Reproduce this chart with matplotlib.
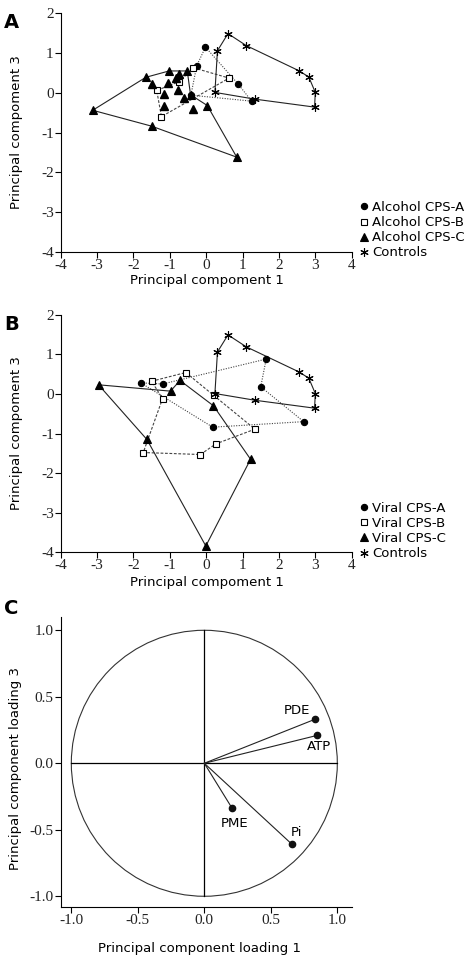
import numpy as np
import matplotlib
matplotlib.use('Agg')
import matplotlib.pyplot as plt
from matplotlib.lines import Line2D
from matplotlib.patches import Circle

plt.rcParams['axes.unicode_minus'] = False

# --- Panel A: alcoholic cirrhosis scores (outline points first, in drawing order) ---
alc_a_x = [-0.02, 0.87, 1.25, -0.42, -0.26]
alc_a_y = [1.15, 0.23, -0.21, -0.06, 0.68]
alc_b_x = [-0.35, 0.63, -1.23, -1.36, -0.74]
alc_b_y = [0.63, 0.37, -0.60, 0.06, 0.28]
alc_c_x = [-3.12, -1.66, -1.02, -0.52, -0.43, 0.03, 0.84, -1.50]
alc_c_y = [-0.44, 0.39, 0.55, 0.55, -0.05, -0.32, -1.62, -0.84]
alc_c_inner_x = [-1.48, -0.75, -0.83, -1.06, -0.78, -1.17, -1.15, -0.60, -0.37]
alc_c_inner_y = [0.22, 0.47, 0.36, 0.25, 0.07, -0.02, -0.32, -0.13, -0.40]

# controls (same in A and B)
ctrl_x = [0.31, 0.60, 1.10, 2.54, 2.82, 3.00, 2.98, 1.34, 0.24]
ctrl_y = [1.06, 1.49, 1.19, 0.56, 0.40, 0.01, -0.36, -0.16, 0.01]

# --- Panel B: viral cirrhosis scores ---
vir_a_x = [-1.80, -1.20, 1.65, 1.50, 2.68, 0.18]
vir_a_y = [0.28, 0.25, 0.88, 0.18, -0.70, -0.84]
vir_b_x = [-1.50, -0.56, 0.21, 1.34, 0.27, -0.16, -1.73, -1.20]
vir_b_y = [0.32, 0.54, -0.04, -0.89, -1.26, -1.53, -1.48, -0.12]
vir_c_x = [-2.96, -0.98, -0.72, 0.20, 1.22, -0.01, -1.63]
vir_c_y = [0.23, 0.07, 0.34, -0.30, -1.65, -3.84, -1.15]

# --- Panel C: loadings ---
load_names = ['PDE', 'ATP', 'PME', 'Pi']
load_x = [0.83, 0.85, 0.21, 0.66]
load_y = [0.33, 0.21, -0.34, -0.61]

score_ticks = [-4, -3, -2, -1, 0, 1, 2, 3, 4]
load_ticks = [-1.0, -0.5, 0.0, 0.5, 1.0]

SANS = 'DejaVu Sans'
SERIF = 'Liberation Serif'
FS = 9.5

styles = {
    'A': dict(marker='o', ms=4.5, mfc='black', mec='black', ls=(0, (1, 1.3)), color='#444444'),
    'B': dict(marker='s', ms=4, mfc='white', mec='black', ls=(0, (2.5, 1.5)), color='#444444'),
    'C': dict(marker='^', ms=5.5, mfc='black', mec='black', ls='-', color='#222222'),
    'K': dict(marker=(6, 2, 0), ms=6, mfc='black', mec='black', ls='-', color='#222222'),
}


def closed(v):
    return list(v) + [v[0]]


def draw_group(ax, xs, ys, st):
    ax.plot(closed(xs), closed(ys), ls=st['ls'], color=st['color'], lw=0.8, zorder=2)
    ax.plot(xs, ys, ls='none', marker=st['marker'], ms=st['ms'], mfc=st['mfc'],
            mec=st['mec'], mew=0.8, zorder=3)


def style_axes(ax):
    ax.spines['top'].set_visible(False)
    ax.spines['right'].set_visible(False)
    ax.spines['left'].set_linewidth(0.8)
    ax.spines['bottom'].set_linewidth(0.8)
    ax.tick_params(direction='out', length=4, width=0.8, pad=1)
    for lab in ax.get_xticklabels() + ax.get_yticklabels():
        lab.set_fontfamily(SERIF)
        lab.set_fontsize(11)
        lab.set_color('#222222')


def score_panel(ax, groups, names, letter, xlab_y):
    for xs, ys, key in groups:
        draw_group(ax, xs, ys, styles[key])
    ax.set_xlim(-4, 4)
    ax.set_ylim(-4, 2)
    ax.set_xticks(score_ticks)
    ax.set_yticks(range(-4, 3))
    style_axes(ax)
    ax.set_xlabel('Principal compoment 1', fontsize=FS, family=SANS)
    ax.set_ylabel('Principal compoment 3', fontsize=FS, family=SANS)
    ax.xaxis.set_label_coords(0.503, xlab_y)
    ax.yaxis.set_label_coords(-0.128, 0.5)
    handles = []
    for key, name in zip(['A', 'B', 'C', 'K'], names):
        st = styles[key]
        handles.append(Line2D([], [], ls='none', marker=st['marker'], ms=st['ms'],
                              mfc=st['mfc'], mec=st['mec'], mew=0.8, label=name))
    ax.legend(handles=handles, loc='center left', bbox_to_anchor=(1.03, 0.09),
              frameon=False, borderpad=0, borderaxespad=0, handlelength=0.6,
              handletextpad=0.3, labelspacing=0.16, prop={'family': SANS, 'size': FS})
    ax.text(-0.195, 1.0, letter, transform=ax.transAxes, fontsize=14,
            fontweight='bold', family=SANS, va='top', ha='left')


fig = plt.figure(figsize=(4.73, 9.68), dpi=100)
axA = fig.add_axes([0.1283, 0.740, 0.6152, 0.2462])
axB = fig.add_axes([0.1283, 0.4294, 0.6152, 0.2455])
axC = fig.add_axes([0.1283, 0.0627, 0.6152, 0.3002])

score_panel(axA, [(alc_a_x, alc_a_y, 'A'), (alc_b_x, alc_b_y, 'B'),
                  (alc_c_x, alc_c_y, 'C'), (ctrl_x, ctrl_y, 'K')],
            ['Alcohol CPS-A', 'Alcohol CPS-B', 'Alcohol CPS-C', 'Controls'], 'A', -0.092)
st = styles['C']
axA.plot(alc_c_inner_x, alc_c_inner_y, ls='none', marker=st['marker'], ms=st['ms'],
         mfc='black', mec='black', zorder=3)

score_panel(axB, [(vir_a_x, vir_a_y, 'A'), (vir_b_x, vir_b_y, 'B'),
                  (vir_c_x, vir_c_y, 'C'), (ctrl_x, ctrl_y, 'K')],
            ['Viral CPS-A', 'Viral CPS-B', 'Viral CPS-C', 'Controls'], 'B', -0.098)

# Panel C: loading circle
axC.add_patch(Circle((0, 0), 1.0, fill=False, lw=0.8, ec='#333333'))
axC.plot([-1, 1], [0, 0], color='black', lw=0.9)
axC.plot([0, 0], [-1, 1], color='black', lw=0.9)
for x, y in zip(load_x, load_y):
    axC.plot([0, x], [0, y], color='#222222', lw=0.8)
axC.plot(load_x, load_y, ls='none', marker='o', ms=4.5, color='#111111')
offsets = {'PDE': ((-3, 2), 'right', 'bottom'),
           'ATP': ((1, -3), 'center', 'top'),
           'PME': ((2, -6), 'center', 'top'),
           'Pi': ((-1, 4), 'left', 'bottom')}
for name, x, y in zip(load_names, load_x, load_y):
    off, ha, va = offsets[name]
    axC.annotate(name, (x, y), xytext=off, textcoords='offset points',
                 ha=ha, va=va, fontsize=FS, family=SANS)
axC.set_xlim(-1.08, 1.108)
axC.set_ylim(-1.083, 1.102)
axC.set_xticks(load_ticks)
axC.set_yticks(load_ticks)
axC.set_xticklabels(['-1.0', '-0.5', '0.0', '0.5', '1.0'])
axC.set_yticklabels(['-1.0', '-0.5', '0.0', '0.5', '1.0'])
style_axes(axC)
axC.set_xlabel('Principal component loading 1', fontsize=FS, family=SANS)
axC.set_ylabel('Principal component loading 3', fontsize=FS, family=SANS)
axC.xaxis.set_label_coords(0.478, -0.119)
axC.yaxis.set_label_coords(-0.134, 0.476)
axC.text(-0.195, 1.06, 'C', transform=axC.transAxes, fontsize=14,
         fontweight='bold', family=SANS, va='top', ha='left')

fig.savefig('out.png', dpi=100)
